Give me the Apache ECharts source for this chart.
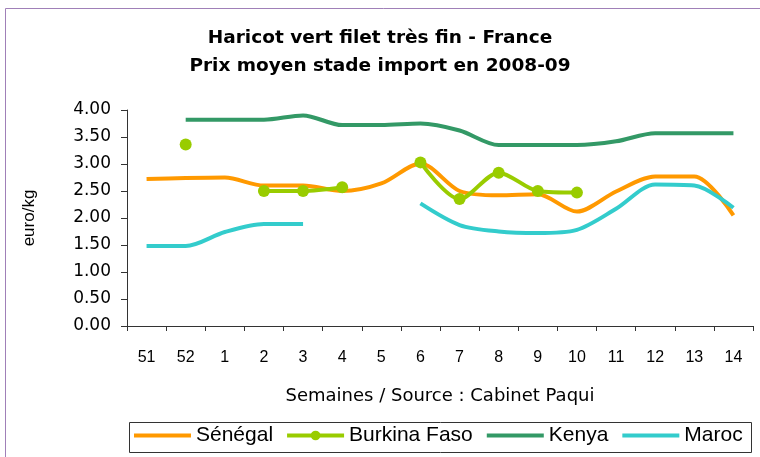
<!DOCTYPE html>
<html>
<head>
<meta charset="utf-8">
<script src="https://cdn.jsdelivr.net/npm/echarts@6/dist/echarts.min.js"></script>
<style>
html,body{margin:0;padding:0;background:#fff;}
#chart{width:760px;height:457px;}
</style>
</head>
<body>
<div id="chart"></div>
<script>
var weeks = ['51','52','1','2','3','4','5','6','7','8','9','10','11','12','13','14'];
var senegal = [2.72, 2.74, 2.75, 2.6, 2.6, 2.5, 2.64, 3.01, 2.5, 2.42, 2.44, 2.12, 2.49, 2.77, 2.77, 2.05];
var burkina = [null, 3.36, null, 2.5, 2.5, 2.57, null, 3.03, 2.35, 2.84, 2.5, 2.47, null, null, null, null];
var kenya = [null, 3.82, 3.82, 3.82, 3.9, 3.72, 3.72, 3.75, 3.62, 3.35, 3.35, 3.35, 3.42, 3.57, 3.57, 3.57];
var maroc = [1.48, 1.48, 1.74, 1.89, 1.89, null, null, 2.27, 1.87, 1.75, 1.72, 1.78, 2.17, 2.62, 2.6, 2.19];
var yTicks = {min: 0, max: 4, step: 0.5};

var FONT = '"Liberation Sans", Arial, sans-serif';
var WIDE = '"DejaVu Sans", sans-serif';
var chart = echarts.init(document.getElementById('chart'), null, {renderer: 'canvas'});

function lineSeries(name, data, color, withSymbol) {
  return {
    name: name, type: 'line', data: data,
    smooth: 0.3,
    connectNulls: false,
    symbol: withSymbol ? 'circle' : 'none',
    symbolSize: 12,
    showSymbol: withSymbol,
    lineStyle: {color: color, width: 4},
    itemStyle: {color: color},
    emphasis: {disabled: true},
    animation: false
  };
}

chart.setOption({
  animation: false,
  backgroundColor: '#ffffff',
  title: {
    text: 'Haricot vert filet très fin - France\nPrix moyen stade import en 2008-09',
    left: 'center', top: 19,
    textStyle: {fontFamily: WIDE, fontSize: 18.5, fontWeight: 'bold', color: '#000', lineHeight: 28}
  },
  graphic: [
    {type: 'rect', shape: {x: 5.5, y: 8.5, width: 800, height: 500}, style: {fill: 'none', stroke: '#a080b8', lineWidth: 1}, silent: true},
    {type: 'rect', shape: {x: 129.5, y: 422.5, width: 622, height: 30}, style: {fill: 'none', stroke: '#333', lineWidth: 1}, silent: true}
  ],
  legend: {
    left: 132, top: 425, padding: 0,
    itemWidth: 57, itemHeight: 12, itemGap: 12,
    lineStyle: {width: 4},
    textStyle: {fontFamily: FONT, fontSize: 21, color: '#000'},
    data: [
      {name: 'Sénégal', itemStyle: {opacity: 0}},
      {name: 'Burkina Faso'},
      {name: 'Kenya', itemStyle: {opacity: 0}},
      {name: 'Maroc', itemStyle: {opacity: 0}}
    ]
  },
  grid: {left: 127, right: 7, top: 110, bottom: 131, containLabel: false},
  xAxis: {
    type: 'category', data: weeks, boundaryGap: true,
    name: 'Semaines / Source : Cabinet Paqui', nameLocation: 'middle', nameGap: 61,
    nameTextStyle: {fontFamily: WIDE, fontSize: 18, color: '#000'},
    axisLine: {lineStyle: {color: '#333', width: 1}},
    axisTick: {show: true, length: 5, lineStyle: {color: '#333'}},
    axisLabel: {fontFamily: FONT, fontSize: 16, color: '#000', margin: 24, interval: 0},
    splitLine: {show: false}
  },
  yAxis: {
    type: 'value', min: yTicks.min, max: yTicks.max, interval: yTicks.step,
    name: 'euro/kg', nameLocation: 'middle', nameGap: 89, nameRotate: 90,
    nameTextStyle: {fontFamily: FONT, fontSize: 17, color: '#000'},
    axisLine: {show: true, lineStyle: {color: '#333', width: 1}},
    axisTick: {show: true, length: 6, lineStyle: {color: '#333'}},
    axisLabel: {fontFamily: WIDE, fontSize: 17, color: '#000', margin: 16,
      formatter: function (v) { return v.toFixed(2); }},
    splitLine: {show: false}
  },
  series: [
    lineSeries('Sénégal', senegal, '#ff9900', false),
    lineSeries('Burkina Faso', burkina, '#99cc00', true),
    lineSeries('Kenya', kenya, '#339966', false),
    lineSeries('Maroc', maroc, '#33cccc', false)
  ]
});
</script>
</body>
</html>
